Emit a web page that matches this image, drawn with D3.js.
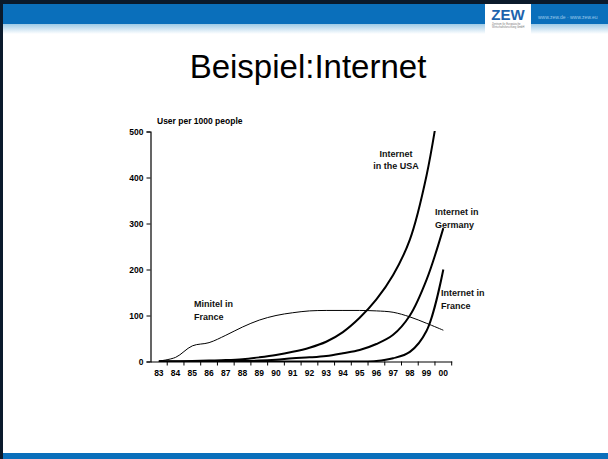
<!DOCTYPE html>
<html>
<head>
<meta charset="utf-8">
<script src="https://cdn.jsdelivr.net/npm/d3@7"></script>
<style>
  body { margin: 0; background: #fff; }
  svg { display: block; font-family: "Liberation Sans", Arial, sans-serif; }
</style>
</head>
<body>
<div id="chart"></div>
<script>
// years on the category axis
var years = ["83", "84", "85", "86", "87", "88", "89", "90", "91", "92",
  "93", "94", "95", "96", "97", "98", "99", "00"];
// users per 1000 people
var minitel = [1, 9, 34, 41, 57, 75, 90, 100, 106, 110, 111, 111, 111, 110, 107, 97, 83, 68];
var usa = [0, 0, 1, 2, 3, 5, 9, 14, 21, 30, 43, 64, 95, 135, 188, 265, 405, 620];
var germany = [0, 0, 0, 0, 1, 1, 2, 4, 7, 9, 12, 18, 25, 38, 58, 100, 178, 290];
var france = [0, 0, 0, 0, 0, 0, 0, 0, 0, 0, 0, 0, 0, 1, 7, 21, 67, 200];
var yTicks = [0, 100, 200, 300, 400, 500];

var W = 608, H = 459;
var svg = d3.select("#chart").append("svg")
  .attr("width", W)
  .attr("height", H);

// --- slide frame (header band, logo, footer) ---
var defs = svg.append("defs");
var fade = defs.append("linearGradient")
  .attr("id", "fade").attr("x1", 0).attr("y1", 0).attr("x2", 0).attr("y2", 1);
fade.append("stop").attr("offset", "0%").attr("stop-color", "#9fcbe6");
fade.append("stop").attr("offset", "100%").attr("stop-color", "#ffffff");

svg.append("rect").attr("x", 0).attr("y", 24).attr("width", W).attr("height", 10)
  .attr("fill", "url(#fade)");
svg.append("rect").attr("x", 0).attr("y", 3).attr("width", W).attr("height", 21)
  .attr("fill", "#0a6fbb");
svg.append("rect").attr("x", 0).attr("y", 0).attr("width", W).attr("height", 4)
  .attr("fill", "#0a1a2c");
svg.append("rect").attr("x", 0).attr("y", 453).attr("width", W).attr("height", 6)
  .attr("fill", "#0a6fbb");
svg.append("rect").attr("x", 0).attr("y", 0).attr("width", 3).attr("height", H)
  .attr("fill", "#0a1a2c");

// logo box
svg.append("rect").attr("x", 485).attr("y", 4).attr("width", 46).attr("height", 30)
  .attr("fill", "#ffffff");
svg.append("text").attr("x", 508).attr("y", 20)
  .attr("text-anchor", "middle")
  .style("font-size", "15px").style("font-weight", "bold")
  .attr("fill", "#1c63ad")
  .text("ZEW");
svg.append("text").attr("x", 492).attr("y", 25)
  .style("font-size", "2.6px").attr("fill", "#777")
  .text("Zentrum für Europäische");
svg.append("text").attr("x", 492).attr("y", 28)
  .style("font-size", "2.6px").attr("fill", "#777")
  .text("Wirtschaftsforschung GmbH");
svg.append("text").attr("x", 538).attr("y", 19)
  .style("font-size", "5px").attr("fill", "#9cc8ea")
  .text("www.zew.de · www.zew.eu");

// title
svg.append("text")
  .attr("x", 308).attr("y", 78)
  .attr("text-anchor", "middle")
  .style("font-size", "33px")
  .attr("fill", "#000")
  .text("Beispiel:Internet");

// --- chart ---
// (window.top is reserved, so the plot edges get their own names)
var plotLeft = 150.5, plotRight = 451.7, plotTop = 131.5, plotBottom = 361.5;

var x = d3.scaleBand()
  .domain(years)
  .range([plotLeft, plotRight]);

var y = d3.scaleLinear()
  .domain([0, 500])
  .range([plotBottom, plotTop]);

var cx = function (d, i) { return x(years[i]) + x.bandwidth() / 2; };

defs.append("clipPath").attr("id", "plot")
  .append("rect")
  .attr("x", plotLeft).attr("y", plotTop - 0.5)
  .attr("width", plotRight - plotLeft + 2).attr("height", plotBottom - plotTop + 1);

// y axis
var yAxis = svg.append("g")
  .attr("transform", "translate(" + plotLeft + ",0)")
  .call(d3.axisLeft(y).tickValues(yTicks).tickSize(4).tickPadding(3));
// x axis, ticks between the categories
var xAxis = svg.append("g")
  .attr("transform", "translate(0," + plotBottom + ")")
  .call(d3.axisBottom(x).tickSize(0).tickPadding(10));

xAxis.selectAll(".tick")
  .append("line")
  .attr("x1", x.bandwidth() / 2).attr("x2", x.bandwidth() / 2)
  .attr("y1", 0).attr("y2", 4)
  .attr("stroke", "#000");

[yAxis, xAxis].forEach(function (g) {
  g.selectAll("text")
    .style("font-size", "8.5px")
    .style("font-weight", "bold")
    .style("font-family", "'Liberation Sans', Arial, sans-serif")
    .attr("fill", "#000");
  g.select(".domain").attr("stroke", "#000").attr("stroke-width", 1.2);
  g.selectAll(".tick line").attr("stroke", "#000");
});
xAxis.selectAll(".tick text").attr("dy", "0.5em");

svg.append("text")
  .attr("x", 157).attr("y", 124)
  .style("font-size", "8.5px").style("font-weight", "bold")
  .text("User per 1000 people");

// lines (smoothed like the original spreadsheet chart)
var line = d3.line()
  .x(cx)
  .y(function (d) { return y(d); })
  .curve(d3.curveCatmullRom.alpha(0.5));

var series = [
  { values: minitel, width: 1 },
  { values: usa, width: 2 },
  { values: germany, width: 2 },
  { values: france, width: 2 }
];

svg.append("g")
  .attr("clip-path", "url(#plot)")
  .selectAll("path")
  .data(series)
  .enter().append("path")
  .attr("d", function (d) { return line(d.values); })
  .attr("fill", "none")
  .attr("stroke", "#000")
  .attr("stroke-width", function (d) { return d.width; });

// labels next to the lines
var notes = [
  { lines: ["Minitel in", "France"], x: 194, y: 307, anchor: "start" },
  { lines: ["Internet", "in the USA"], x: 396, y: 156.5, anchor: "middle" },
  { lines: ["Internet in", "Germany"], x: 435, y: 215, anchor: "start" },
  { lines: ["Internet in", "France"], x: 441, y: 296, anchor: "start" }
];

var note = svg.append("g").selectAll("text")
  .data(notes)
  .enter().append("text")
  .attr("x", function (d) { return d.x; })
  .attr("y", function (d) { return d.y; })
  .attr("text-anchor", function (d) { return d.anchor; })
  .style("font-size", "9px")
  .style("font-weight", "bold")
  .attr("fill", "#111");

note.selectAll("tspan")
  .data(function (d) { return d.lines; })
  .enter().append("tspan")
  .attr("x", function () { return d3.select(this.parentNode).attr("x"); })
  .attr("dy", function (d, i) { return i ? 12.7 : 0; })
  .text(function (d) { return d; });
</script>
</body>
</html>
